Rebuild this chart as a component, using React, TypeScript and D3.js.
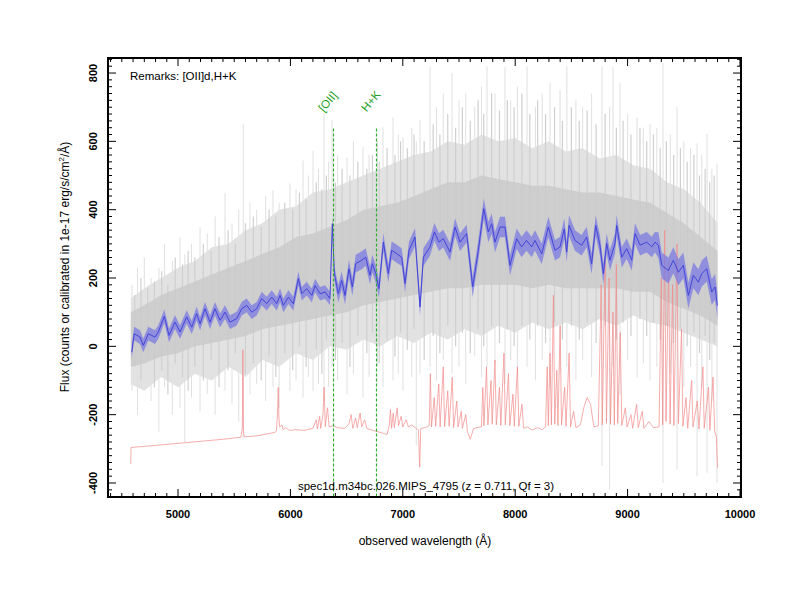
import React from 'react';
import * as d3 from 'd3';

// smoothed spectrum (blue) : [wavelength, flux]
const smoothFlux: [number, number][] = [
  [4588, -17], [4610, 37], [4662, 27], [4691, 3], [4736, 37], [4795, 27], [4825, 42], [4878, 88],
  [4920, 32], [4973, 71], [5018, 42], [5077, 86], [5122, 56], [5166, 96], [5196, 66], [5240, 110],
  [5285, 71], [5329, 110], [5374, 76], [5418, 100], [5463, 71], [5522, 81], [5567, 110], [5611, 120],
  [5656, 100], [5700, 110], [5745, 140], [5789, 125], [5834, 144], [5878, 125], [5908, 149], [5937, 120],
  [5982, 144], [6026, 125], [6071, 198], [6101, 154], [6145, 169], [6190, 149], [6219, 178], [6264, 154],
  [6308, 159], [6352, 140], [6373, 359], [6391, 213], [6426, 154], [6456, 193], [6486, 149], [6521, 227],
  [6551, 174], [6581, 242], [6634, 252], [6670, 261], [6708, 208], [6729, 242], [6759, 213], [6788, 169],
  [6827, 305], [6871, 213], [6901, 281], [6946, 271], [6990, 261], [7020, 184], [7055, 281], [7109, 320],
  [7153, 115], [7183, 261], [7242, 291], [7281, 335], [7322, 305], [7360, 315], [7420, 276], [7465, 349],
  [7509, 305], [7568, 330], [7622, 174], [7672, 281], [7720, 403], [7761, 335], [7791, 359], [7820, 305],
  [7865, 349], [7909, 349], [7954, 237], [8013, 315], [8057, 291], [8101, 310], [8146, 291], [8176, 310],
  [8236, 271], [8295, 349], [8354, 281], [8399, 291], [8437, 344], [8458, 276], [8479, 354], [8532, 310],
  [8591, 296], [8636, 320], [8680, 242], [8716, 354], [8754, 296], [8784, 213], [8814, 301], [8843, 252],
  [8888, 301], [8903, 354], [8948, 261], [8992, 286], [9037, 252], [9066, 330], [9111, 296], [9170, 305],
  [9215, 291], [9244, 305], [9274, 296], [9304, 237], [9363, 222], [9407, 252], [9452, 217], [9496, 237],
  [9541, 149], [9585, 208], [9630, 188], [9660, 213], [9704, 227], [9749, 159], [9778, 174], [9799, 120]
];

// half width of the blue error band, by region start
const smoothErr: [number, number][] = [[4500, 20], [6400, 26], [7600, 30], [9250, 38]];

// raw spectrum envelopes (gray): [wavelength, low, high]
const rawCore: [number, number, number][] = [
  [4580, -60, 100], [4700, -50, 120], [4850, -30, 150], [5000, -20, 170], [5150, 0, 190],
  [5300, 10, 210], [5450, 20, 230], [5600, 30, 250], [5750, 50, 270], [5900, 60, 290],
  [6050, 70, 320], [6200, 80, 330], [6350, 90, 350], [6500, 100, 370], [6650, 120, 400],
  [6800, 130, 410], [6950, 140, 420], [7100, 150, 440], [7250, 160, 460], [7400, 170, 480],
  [7550, 170, 480], [7700, 180, 500], [7850, 180, 490], [8000, 180, 480], [8150, 170, 470],
  [8300, 180, 470], [8450, 170, 460], [8600, 170, 450], [8750, 170, 450], [8900, 170, 440],
  [9050, 160, 430], [9200, 160, 420], [9350, 130, 390], [9500, 110, 360], [9650, 90, 320],
  [9800, 60, 280]
];
const rawMid: [number, number, number][] = [
  [4580, -110, 140], [4700, -130, 170], [4850, -90, 200], [5000, -120, 230], [5150, -80, 250],
  [5300, -100, 290], [5450, -60, 300], [5600, -90, 340], [5750, -40, 360], [5900, -60, 400],
  [6050, -20, 410], [6200, -40, 450], [6350, 0, 460], [6500, -10, 480], [6650, 20, 500],
  [6800, 0, 520], [6950, 30, 540], [7100, 10, 560], [7250, 40, 570], [7400, 20, 600],
  [7550, 50, 590], [7700, 30, 620], [7850, 60, 600], [8000, 40, 610], [8150, 70, 580],
  [8300, 50, 600], [8450, 70, 570], [8600, 50, 580], [8750, 80, 550], [8900, 60, 560],
  [9050, 90, 530], [9200, 70, 520], [9350, 60, 480], [9500, 40, 460], [9650, 20, 420],
  [9800, 0, 360]
];
// extreme pixels of the raw spectrum: [wavelength, low, high]
const rawSpikes: [number, number, number][] = [
  [4590, -130, 180], [4640, -200, 230], [4700, -110, 260], [4760, -160, 200], [4830, -250, 230],
  [4880, -120, 300], [4950, -200, 250], [5018, -180, 319], [5060, -280, 270], [5120, -150, 300],
  [5196, -190, 349], [5260, -140, 330], [5330, -200, 380], [5418, -130, 448], [5480, -170, 360],
  [5540, -220, 400], [5580, -270, 652], [5640, -140, 420], [5700, -110, 400], [5780, -160, 440],
  [5845, -120, 457], [5900, -180, 420], [5996, -130, 477], [6050, -100, 460], [6112, -150, 544],
  [6160, -90, 500], [6201, -130, 573], [6250, -110, 520], [6299, -160, 682], [6340, -120, 540],
  [6370, -60, 662], [6420, -100, 560], [6504, -140, 553], [6560, -80, 600], [6646, -150, 583],
  [6700, -90, 560], [6775, -60, 600], [6824, -120, 641], [6913, -100, 670], [6960, -80, 620],
  [7002, -130, 612], [7080, -90, 640], [7120, -290, 600], [7153, -80, 662], [7242, -60, 817],
  [7300, -100, 700], [7360, -40, 740], [7438, -80, 800], [7500, -60, 720], [7560, -110, 740],
  [7640, -30, 700], [7700, -90, 760], [7749, -60, 820], [7820, -50, 740], [7909, -110, 817],
  [7960, -40, 720], [8020, -80, 760], [8105, -60, 820], [8180, -100, 700], [8240, -40, 740],
  [8310, -120, 770], [8399, -80, 750], [8460, -60, 820], [8540, -100, 720], [8600, -40, 700],
  [8680, -90, 740], [8772, -350, 820], [8840, -420, 700], [8870, -60, 817], [8932, -140, 770],
  [9000, -40, 680], [9084, -90, 670], [9140, -50, 640], [9200, -100, 650], [9260, -60, 640],
  [9315, -400, 830], [9380, -80, 620], [9440, -360, 700], [9500, -120, 600], [9560, -60, 580],
  [9618, -380, 594], [9660, -120, 560], [9707, -370, 623], [9750, -160, 520], [9795, -400, 535]
];
const rawHairs: [number, number, number][] = [
  [4615, -60, 150], [4670, -100, 200], [4730, -40, 170], [4790, -120, 190], [4855, -70, 220],
  [4910, -140, 180], [4975, -50, 260], [5040, -90, 240], [5090, -130, 280], [5150, -60, 260],
  [5225, -100, 300], [5295, -40, 280], [5365, -120, 320], [5445, -70, 340], [5510, -20, 300],
  [5600, -80, 360], [5670, -50, 380], [5740, -100, 350], [5810, -30, 400], [5870, -90, 380],
  [5950, -20, 420], [6020, -70, 400], [6080, 0, 450], [6140, -60, 430], [6230, -10, 480],
  [6280, -80, 460], [6320, 20, 500], [6400, -40, 480], [6460, 10, 520], [6530, -60, 500],
  [6600, 30, 540], [6680, -20, 520], [6730, 40, 560], [6790, -50, 540], [6860, 20, 580],
  [6930, -30, 560], [6980, 40, 600], [7040, -10, 580], [7100, 50, 620], [7190, -40, 600],
  [7270, 30, 650], [7330, -20, 620], [7400, 60, 680], [7470, 0, 640], [7530, 40, 700],
  [7600, -20, 660], [7670, 50, 720], [7720, 0, 680], [7790, 60, 740], [7860, 10, 690],
  [7930, 50, 720], [7990, 0, 700], [8060, 60, 740], [8130, 20, 680], [8200, 60, 720],
  [8270, 10, 680], [8350, 70, 700], [8420, 20, 660], [8500, 60, 700], [8570, 20, 660],
  [8640, 70, 690], [8720, 10, 650], [8800, 60, 680], [8900, 20, 640], [8960, 70, 660],
  [9030, 30, 620], [9110, 80, 640], [9170, 30, 600], [9230, 70, 620], [9290, 20, 580],
  [9345, 60, 600], [9410, 10, 560], [9470, 50, 580], [9530, 0, 540], [9590, 40, 560],
  [9640, -20, 500], [9690, 30, 520], [9730, -40, 480], [9770, 10, 500]
];

// sky / error spectrum (red), shifted down
const skyFlux: [number, number][] = [
  [4580, -345], [4582, -296], [4800, -290], [5000, -284], [5200, -278], [5400, -272], [5560, -266],
  [5572, -240], [5577, -10], [5582, -250], [5590, -265], [5700, -262], [5860, -252], [5875, -248],
  [5885, -200], [5892, -120], [5898, -210], [5905, -236], [5925, -230], [5935, -244], [5960, -238],
  [5990, -246], [6050, -244], [6120, -246], [6200, -240], [6230, -215], [6240, -242], [6260, -205],
  [6270, -240], [6290, -200], [6300, -120], [6310, -235], [6330, -180], [6345, -236], [6380, -232],
  [6420, -238], [6480, -240], [6520, -228], [6540, -200], [6555, -240], [6580, -210], [6595, -238],
  [6620, -195], [6635, -235], [6660, -215], [6680, -240], [6720, -245], [6780, -250], [6830, -255],
  [6860, -258], [6880, -230], [6890, -185], [6900, -240], [6915, -195], [6925, -238], [6950, -180],
  [6962, -232], [6985, -205], [7000, -236], [7030, -215], [7050, -236], [7080, -230], [7110, -238],
  [7140, -245], [7150, -354], [7160, -240], [7200, -238], [7235, -232], [7245, -80], [7255, -236],
  [7280, -150], [7292, -234], [7320, -110], [7332, -236], [7360, -60], [7372, -235], [7400, -130],
  [7412, -234], [7440, -90], [7452, -238], [7480, -160], [7492, -236], [7520, -190], [7530, -240],
  [7560, -200], [7575, -250], [7600, -272], [7630, -240], [7660, -238], [7700, -235], [7712, -120],
  [7722, -232], [7745, -60], [7757, -230], [7785, -100], [7795, -228], [7820, -40], [7832, -230],
  [7860, -120], [7872, -232], [7900, -20], [7912, -230], [7940, -80], [7952, -232], [7980, -140],
  [7992, -234], [8020, -60], [8032, -234], [8060, -170], [8075, -240], [8110, -236], [8150, -245],
  [8200, -238], [8240, -244], [8270, -236], [8285, -60], [8295, -232], [8310, -20], [8322, -230],
  [8340, 150], [8352, -228], [8370, -70], [8380, -232], [8400, 60], [8412, -230], [8440, -120],
  [8452, -234], [8480, -20], [8492, -236], [8520, -190], [8540, -238], [8580, -230], [8610, -180],
  [8640, -150], [8670, -170], [8700, -236], [8740, -232], [8765, 180], [8775, -230], [8800, 260],
  [8812, -225], [8835, 200], [8848, -228], [8870, 100], [8882, -230], [8900, 240], [8912, -226],
  [8935, 40], [8948, -232], [8980, -180], [8995, -236], [9030, -200], [9045, -240], [9080, -170],
  [9095, -238], [9130, -190], [9145, -240], [9190, -220], [9230, -238], [9280, -236], [9300, 200],
  [9312, -230], [9330, 340], [9342, -220], [9365, 250], [9378, -228], [9400, 180], [9412, -232],
  [9440, 300], [9452, -226], [9480, 50], [9492, -234], [9520, -150], [9535, -240], [9570, -100],
  [9582, -236], [9620, -160], [9635, -242], [9670, -60], [9682, -240], [9720, -120], [9732, -246],
  [9760, -90], [9775, -250], [9790, -265], [9800, -355]
];

const lineMarks = [
  { name: '[OII]', wave: 6377 },
  { name: 'H+K', wave: 6758 }
];
const lineMarkTop = 638;

const xMajor = [5000, 6000, 7000, 8000, 9000, 10000];
const yMajor = [-400, -200, 0, 200, 400, 600, 800];

const remarks = 'Remarks: [OII]d,H+K';
const title = 'spec1d.m34bc.026.MIPS_4795 (z = 0.711, Qf = 3)';

const font = '"Liberation Sans", Arial, Helvetica, sans-serif';

export default function App(): JSX.Element {
  const W = 800;
  const H = 600;
  const left = 108;
  const right = 741;
  const top = 58;
  const bottom = 497;

  const x = d3.scaleLinear().domain([4377, 10009]).range([left, right]);
  const y = d3.scaleLinear().domain([-441, 844]).range([bottom, top]);

  const errAt = (w: number) => {
    let e = smoothErr[0][1];
    smoothErr.forEach((r) => {
      if (w >= r[0]) e = r[1];
    });
    return e;
  };

  const band = d3
    .area<[number, number, number]>()
    .x((d) => x(d[0]))
    .y0((d) => y(d[1]))
    .y1((d) => y(d[2]));

  const blueBand = d3
    .area<[number, number]>()
    .x((d) => x(d[0]))
    .y0((d) => y(d[1] - errAt(d[0])))
    .y1((d) => y(d[1] + errAt(d[0])));

  const line = d3
    .line<[number, number]>()
    .x((d) => x(d[0]))
    .y((d) => y(d[1]));

  const xMinor = d3.range(4400, 10001, 100).filter((v) => v % 1000 !== 0);
  const yMinor = d3.range(-440, 841, 20).filter((v) => v % 200 !== 0);

  return (
    <svg
      width={W}
      height={H}
      style={{ position: 'absolute', left: 0, top: 0, background: '#fff' }}
      fontFamily={font}
    >
      <defs>
        <clipPath id="plot">
          <rect x={left} y={top} width={right - left} height={bottom - top} />
        </clipPath>
      </defs>

      <g clipPath="url(#plot)">
        {/* raw spectrum */}
        {rawSpikes.map((d, i) => (
          <line key={'s' + i} x1={x(d[0])} x2={x(d[0])} y1={y(d[1])} y2={y(d[2])} stroke="#dcdcdc" strokeWidth={0.9} />
        ))}
        <path d={band(rawMid) || ''} fill="#e2e2e2" />
        {rawHairs.map((d, i) => (
          <line key={'h' + i} x1={x(d[0])} x2={x(d[0])} y1={y(d[1])} y2={y(d[2])} stroke="#cfcfcf" strokeWidth={1.2} />
        ))}
        <path d={band(rawCore) || ''} fill="#c9c9c9" opacity={0.8} />

        {/* sky */}
        <path d={line(skyFlux) || ''} fill="none" stroke="#f28a8a" strokeWidth={0.7} />

        {/* smoothed */}
        <path d={blueBand(smoothFlux) || ''} fill="#7a7ae2" opacity={0.75} />
        <path d={line(smoothFlux) || ''} fill="none" stroke="#3c3cd6" strokeWidth={0.9} />

        {/* line markers */}
        {lineMarks.map((m) => {
          const lx = Math.round(x(m.wave)) + 0.5;
          return (
            <line
              key={m.name}
              x1={lx}
              x2={lx}
              y1={y(lineMarkTop)}
              y2={bottom}
              stroke="#30ac30"
              strokeWidth={1.2}
              strokeDasharray="3,2"
            />
          );
        })}
      </g>

      {lineMarks.map((m) => (
        <text
          key={m.name}
          transform={`translate(${x(m.wave) - 9},${y(lineMarkTop) - 16}) rotate(-50)`}
          fontSize={11.5}
          fill="#1e9e1e"
        >
          {m.name}
        </text>
      ))}

      {/* ticks */}
      <g stroke="#000" strokeWidth={1}>
        {xMajor.map((v) => (
          <g key={'xM' + v}>
            <line x1={x(v)} x2={x(v)} y1={bottom} y2={bottom - 8} />
            <line x1={x(v)} x2={x(v)} y1={top} y2={top + 8} />
          </g>
        ))}
        {xMinor.map((v) => (
          <g key={'xm' + v}>
            <line x1={x(v)} x2={x(v)} y1={bottom} y2={bottom - 4} />
            <line x1={x(v)} x2={x(v)} y1={top} y2={top + 4} />
          </g>
        ))}
        {yMajor.map((v) => (
          <g key={'yM' + v}>
            <line x1={left} x2={left + 8} y1={y(v)} y2={y(v)} />
            <line x1={right} x2={right - 8} y1={y(v)} y2={y(v)} />
          </g>
        ))}
        {yMinor.map((v) => (
          <g key={'ym' + v}>
            <line x1={left} x2={left + 4} y1={y(v)} y2={y(v)} />
            <line x1={right} x2={right - 4} y1={y(v)} y2={y(v)} />
          </g>
        ))}
      </g>

      <rect x={left} y={top} width={right - left} height={bottom - top} fill="none" stroke="#000" strokeWidth={2} />

      {xMajor.map((v) => (
        <text key={'xl' + v} x={x(v)} y={518} textAnchor="middle" fontSize={11} fontWeight="bold">
          {v}
        </text>
      ))}
      {yMajor.map((v) => (
        <text
          key={'yl' + v}
          transform={`translate(${97},${y(v)}) rotate(-90)`}
          textAnchor="middle"
          fontSize={11}
          fontWeight="bold"
        >
          {v}
        </text>
      ))}

      <text x={130} y={80} fontSize={11.5}>
        {remarks}
      </text>
      <text x={426} y={490} textAnchor="middle" fontSize={11.5}>
        {title}
      </text>

      <text x={425} y={545} textAnchor="middle" fontSize={12}>
        observed wavelength (Å)
      </text>
      <text transform="translate(69,267) rotate(-90)" textAnchor="middle" fontSize={12}>
        Flux (counts or calibrated in 1e-17 erg/s/cm
        <tspan dy={-5} fontSize={8}>2</tspan>
        <tspan dy={5}>/Å)</tspan>
      </text>
    </svg>
  );
}
